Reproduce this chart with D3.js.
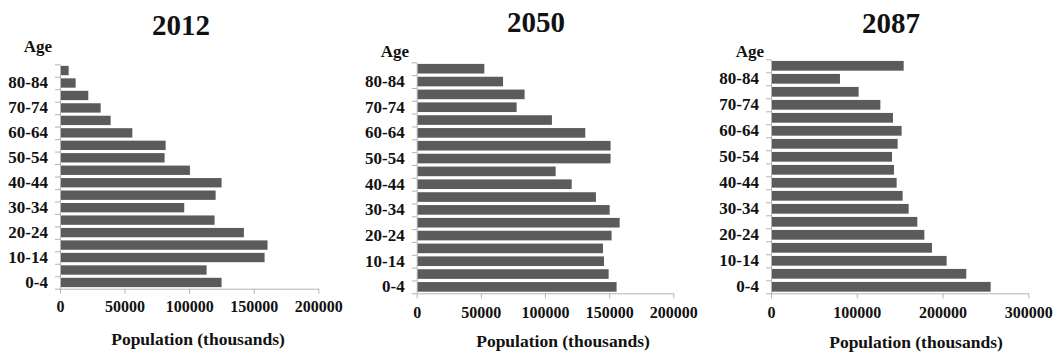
<!DOCTYPE html>
<html>
<head>
<meta charset="utf-8">
<script src="https://cdn.jsdelivr.net/npm/d3@7"></script>
<style>
  html, body { margin: 0; padding: 0; background: #fff; }
  svg { display: block; }
</style>
</head>
<body>
<svg id="chart" width="1057" height="354"></svg>
<script>
// ---- data ----
const ageGroups = ["0-4","5-9","10-14","15-19","20-24","25-29","30-34","35-39","40-44",
                   "45-49","50-54","55-59","60-64","65-69","70-74","75-79","80-84","85+"];
const yearTitles = ["2012", "2050", "2087"];
const pop2012 = [125100,113500,158400,160700,142400,119700,96200,120500,125100,
                 100600,81000,81800,56000,39200,31500,21900,12100,6700];
const pop2050 = [155800,149600,146000,145200,151900,158200,150400,139700,120800,
                 108300,151100,151100,131400,105400,77900,84100,67300,52700];
const pop2087 = [256100,227700,204800,187700,178800,170600,160500,153500,146500,
                 143400,141100,147700,152300,142200,127500,102200,80400,154700];
const xTicks2012 = [0, 50000, 100000, 150000, 200000];
const xTicks2050 = [0, 50000, 100000, 150000, 200000];
const xTicks2087 = [0, 100000, 200000, 300000];
const xMax = [200000, 200000, 300000];
const yAxisLabel = "Age";
const xAxisLabel = "Population (thousands)";

// ---- layout (positions only) ----
const FONT = "'Liberation Serif', 'Times New Roman', Times, serif";
const panels = [
  { values: pop2012, ticks: xTicks2012, max: xMax[0], title: yearTitles[0],
    x0: 60, x1: 318.3, yTop: 64.3, yBot: 288.7,
    titleX: 181, titleY: 35, ageX: 38, ageY: 52, axTitleX: 198, axTitleY: 345, xLabY: 312 },
  { values: pop2050, ticks: xTicks2050, max: xMax[1], title: yearTitles[1],
    x0: 416.7, x1: 673.3, yTop: 62.3, yBot: 293.3,
    titleX: 536, titleY: 32, ageX: 395, ageY: 57, axTitleX: 563, axTitleY: 347, xLabY: 318 },
  { values: pop2087, ticks: xTicks2087, max: xMax[2], title: yearTitles[2],
    x0: 771, x1: 1028.3, yTop: 59.3, yBot: 293.3,
    titleX: 891, titleY: 33, ageX: 750, ageY: 57, axTitleX: 916, axTitleY: 348, xLabY: 318 }
];

const svg = d3.select("#chart");
svg.append("rect").attr("width", 1057).attr("height", 354).attr("fill", "#fff");

function styleText(sel, size) {
  sel.attr("font-family", null)
     .style("font-family", FONT).style("font-weight", "bold")
     .style("font-size", size + "px").attr("fill", "#111");
}

panels.forEach(p => {
  const g = svg.append("g");
  const x = d3.scaleLinear().domain([0, p.max]).range([p.x0, p.x1]);
  const y = d3.scaleBand().domain(ageGroups).range([p.yBot, p.yTop]).paddingInner(0.25).paddingOuter(0.125);
  const yIdx = d3.scaleLinear().domain([0, ageGroups.length]).range([p.yBot, p.yTop]);

  // bars
  g.selectAll("rect.bar").data(ageGroups).join("rect")
    .attr("class", "bar")
    .attr("x", x(0) + 0.5)
    .attr("y", d => y(d))
    .attr("width", (d, i) => x(p.values[i]) - x(0) - 0.5)
    .attr("height", y.bandwidth())
    .attr("fill", "#5b5b5b");

  // x axis
  const xa = g.append("g").attr("transform", `translate(0,${p.yBot})`)
    .call(d3.axisBottom(x).tickValues(p.ticks).tickSize(5).tickSizeOuter(0).tickFormat(d3.format("d")));
  xa.attr("font-family", null);
  xa.select(".domain").attr("stroke", "#b5b5b5");
  xa.selectAll(".tick line").attr("stroke", "#b5b5b5");
  xa.selectAll(".tick text").attr("y", null).attr("dy", null)
    .attr("transform", `translate(0,${p.xLabY - p.yBot})`)
    .call(styleText, 16);

  // y axis: boundary ticks
  const ya = g.append("g").attr("transform", `translate(${p.x0},0)`)
    .call(d3.axisLeft(yIdx).tickValues(d3.range(ageGroups.length + 1)).tickSize(5).tickSizeOuter(0).tickFormat(""));
  ya.select(".domain").attr("stroke", "#b5b5b5");
  ya.selectAll(".tick line").attr("stroke", "#b5b5b5");

  // y axis labels (every other category)
  const yl = g.append("g").attr("transform", `translate(${p.x0},0)`)
    .call(d3.axisLeft(y).tickSize(0).tickPadding(12)
      .tickValues(ageGroups.filter((d, i) => i % 2 === 0)));
  yl.attr("font-family", null);
  yl.select(".domain").remove();
  yl.selectAll(".tick text").call(styleText, 17);

  // titles
  g.append("text").attr("x", p.titleX).attr("y", p.titleY)
    .attr("text-anchor", "middle").text(p.title).call(styleText, 29);
  g.append("text").attr("x", p.ageX).attr("y", p.ageY)
    .attr("text-anchor", "middle").text(yAxisLabel).call(styleText, 17);
  g.append("text").attr("x", p.axTitleX).attr("y", p.axTitleY)
    .attr("text-anchor", "middle").text(xAxisLabel).call(styleText, 17.5);
});
</script>
</body>
</html>
